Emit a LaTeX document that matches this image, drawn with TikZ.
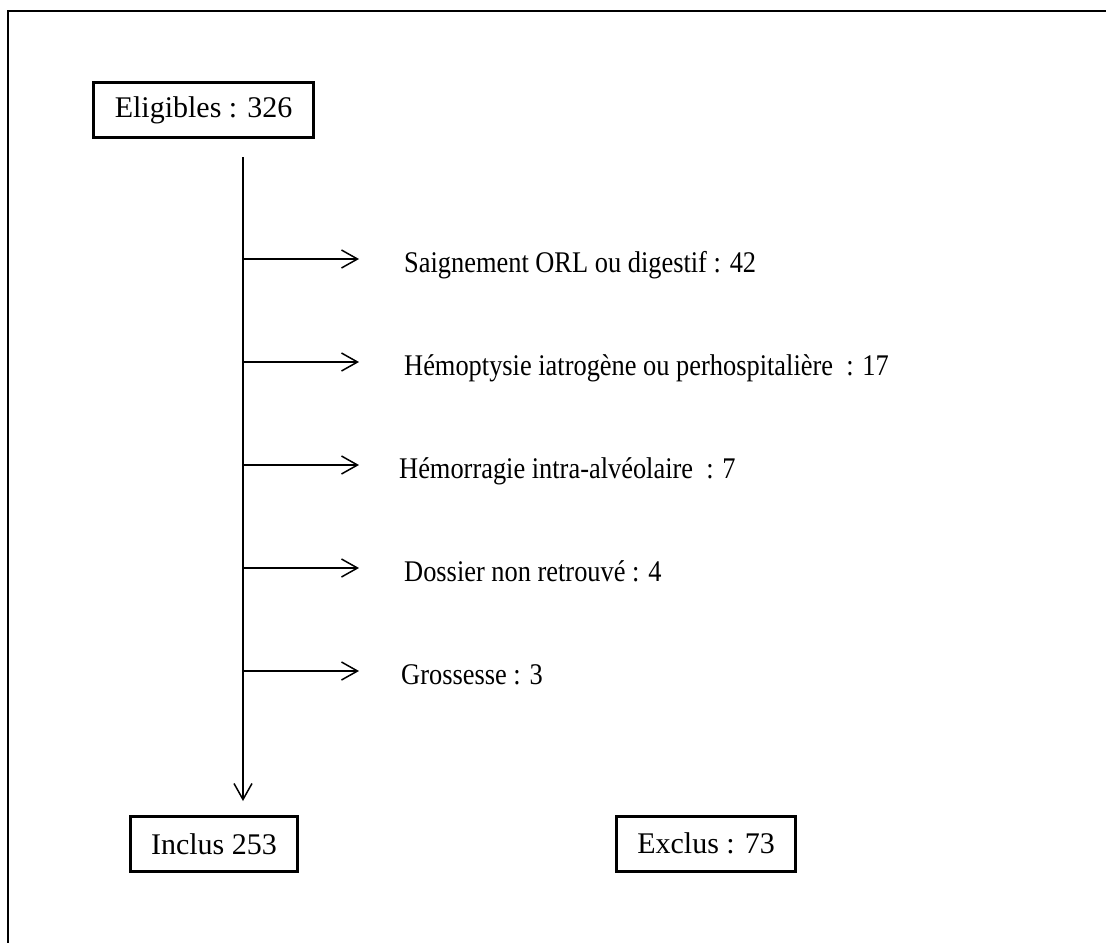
\documentclass[tikz,border=0pt]{standalone}
\usepackage{fontspec}
\setmainfont{Liberation Serif}
\newfontfamily\condfont[FakeStretch=0.88]{Liberation Serif}
\usepackage{tikz}
\usetikzlibrary{arrows.meta}

\begin{document}
\begin{tikzpicture}[
          x=1pt, y=-1pt,
          every node/.style={align=center, font=\fontsize{30}{36}\selectfont},
          box/.style={draw, line width=3pt, inner xsep=21pt, minimum height=55pt},
          item/.style={anchor=base west, inner sep=0pt, font=\condfont\fontsize{30}{36}\selectfont},
          arrow/.style={-{Straight Barb[length=16pt,width=18pt]}, line width=1.5pt}
        ]
          \useasboundingbox (0,0) rectangle (1106,943);
          % outer frame (open at right and bottom)
          \draw[line width=2pt] (1106,11) -- (8,11) -- (8,943);

          \node[box] (elig) at (203.5,110) {Eligibles : 326};

          % main stem
          \coordinate (stemtop) at (243,157);
          \coordinate (stemend) at (243,801);

          % excluded patients
          \coordinate (b1) at (243,259);
          \node[item] (ex1) at (404,272) {Saignement ORL ou digestif : 42};
          \coordinate (b2) at (243,362);
          \node[item] (ex2) at (404,375) {Hémoptysie iatrogène ou perhospitalière~ : 17};
          \coordinate (b3) at (243,465);
          \node[item] (ex3) at (399,478) {Hémorragie intra-alvéolaire~ : 7};
          \coordinate (b4) at (243,568);
          \node[item] (ex4) at (404,581) {Dossier non retrouvé : 4};
          \coordinate (b5) at (243,671);
          \node[item] (ex5) at (401,684) {Grossesse : 3};

          % bottom boxes
          \node[box] (incl) at (214,844) {Inclus 253};
          \node[box] (excl) at (706,843.5) {Exclus : 73};

          % Arrows
          \draw[arrow] (stemtop) -- (stemend);
          \draw[arrow] (b1) -- (b1 -| 359,0);
          \draw[arrow] (b2) -- (b2 -| 359,0);
          \draw[arrow] (b3) -- (b3 -| 359,0);
          \draw[arrow] (b4) -- (b4 -| 359,0);
          \draw[arrow] (b5) -- (b5 -| 359,0);
        \end{tikzpicture}
\end{document}
